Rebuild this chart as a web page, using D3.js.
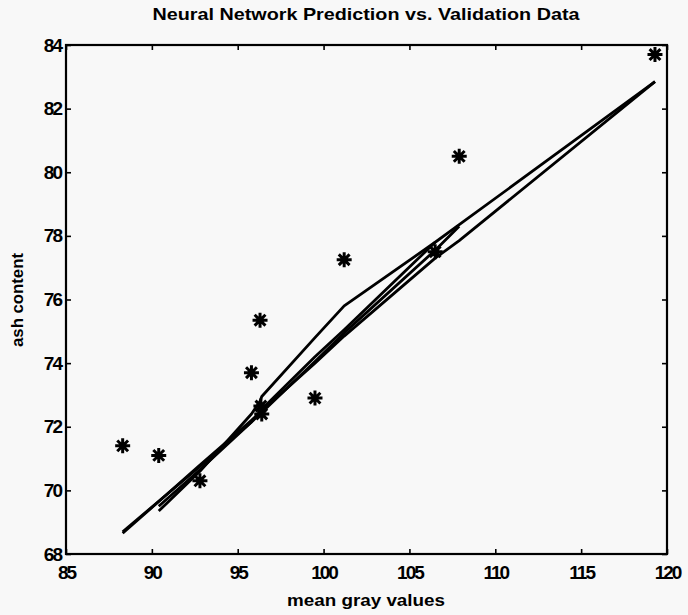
<!DOCTYPE html>
<html>
<head>
<meta charset="utf-8">
<script src="https://cdn.jsdelivr.net/npm/d3@7"></script>
<style>
  body { margin: 0; background: #f8f8f8; }
  svg { display: block; }
  text { font-family: "Liberation Sans", Arial, sans-serif; fill: #000; font-weight: bold; }
</style>
</head>
<body>
<div id="chart"></div>
<script>
// validation data (mean gray value, ash content)
var valX = [88.3, 90.4, 92.8, 95.8, 96.3, 96.35, 96.4, 99.5, 101.2, 106.5, 107.9, 119.3];
var valY = [71.4, 71.1, 70.3, 73.7, 75.35, 72.65, 72.4, 72.9, 77.25, 77.5, 80.5, 83.7];

// network predictions (several trained nets)
var predX1 = [88.3, 90.4, 92.8, 95.8, 96.3, 96.4, 99.5, 101.2, 106.5, 107.9, 119.3];
var predY1 = [68.65, 69.65, 70.8, 72.2, 72.45, 72.5, 74.0, 74.85, 77.3, 77.85, 82.85];
var predX2 = [90.4, 92.8, 95.8, 96.3, 96.4, 99.5, 101.2, 106.5, 107.9, 119.3];
var predY2 = [69.35, 70.6, 72.4, 72.8, 72.95, 74.8, 75.8, 77.8, 78.35, 82.85];
var predX3 = [88.3, 92.8, 95.8, 96.4, 99.5, 101.2, 106.5];
var predY3 = [68.7, 70.75, 72.15, 72.55, 74.2, 75.05, 77.8];
var predX4 = [90.4, 92.8, 96.4, 99.5, 101.2, 106.5, 107.9];
var predY4 = [69.5, 70.65, 72.45, 74.05, 74.95, 77.55, 78.3];

var xTicks = [85, 90, 95, 100, 105, 110, 115, 120];
var yTicks = [68, 70, 72, 74, 76, 78, 80, 82, 84];

var w = 688, h = 615;
var padLeft = 66, padRight = 667, padTop = 45, padBottom = 554;

var svg = d3.select("#chart").append("svg")
    .attr("width", w)
    .attr("height", h);

var xScale = d3.scaleLinear().domain([85, 120]).range([padLeft, padRight]);
var yScale = d3.scaleLinear().domain([68, 84]).range([padBottom, padTop]);

// prediction lines
var line = d3.line()
    .x(function(d) { return xScale(d[0]); })
    .y(function(d) { return yScale(d[1]); });

var preds = [[predX1, predY1], [predX2, predY2], [predX3, predY3], [predX4, predY4]];
preds.forEach(function(p) {
    svg.append("path")
        .datum(d3.zip(p[0], p[1]))
        .attr("d", line)
        .attr("fill", "none")
        .attr("stroke", "#000")
        .attr("stroke-width", 2.8)
        .attr("stroke-linejoin", "round");
});

// asterisk markers
var r = 7.5, rd = r * 0.72;
var star = "M0," + (-r) + "L0," + r +
           "M" + (-r) + ",0L" + r + ",0" +
           "M" + (-rd) + "," + (-rd) + "L" + rd + "," + rd +
           "M" + (-rd) + "," + rd + "L" + rd + "," + (-rd);
svg.selectAll(".pt")
    .data(d3.zip(valX, valY))
    .enter()
    .append("path")
    .attr("class", "pt")
    .attr("transform", function(d) { return "translate(" + xScale(d[0]) + "," + yScale(d[1]) + ")"; })
    .attr("d", star)
    .attr("stroke", "#000")
    .attr("stroke-width", 3)
    .attr("fill", "none");

// axes (matlab style box, ticks inward)
var xAxis = d3.axisBottom(xScale).tickValues(xTicks).tickSize(-5).tickPadding(10);
var yAxis = d3.axisLeft(yScale).tickValues(yTicks).tickSize(-5).tickPadding(5);

var gx = svg.append("g")
    .attr("transform", "translate(0," + padBottom + ")")
    .call(xAxis);
var gy = svg.append("g")
    .attr("transform", "translate(" + padLeft + ",0)")
    .call(yAxis);
svg.append("g")
    .attr("transform", "translate(0," + padTop + ")")
    .call(d3.axisTop(xScale).tickValues(xTicks).tickSize(-5).tickFormat(""));
svg.append("g")
    .attr("transform", "translate(" + padRight + ",0)")
    .call(d3.axisRight(yScale).tickValues(yTicks).tickSize(-5).tickFormat(""));

svg.selectAll(".domain").remove();
svg.selectAll(".tick line").attr("stroke", "#000").attr("stroke-width", 1.6);
svg.append("rect")
    .attr("x", padLeft).attr("y", padTop)
    .attr("width", padRight - padLeft).attr("height", padBottom - padTop)
    .attr("fill", "none")
    .attr("stroke", "#000")
    .attr("stroke-width", 2.2);

svg.selectAll(".tick text")
    .style("font-size", "19px")
    .style("letter-spacing", "-2px")
    .attr("fill", "#000");
gx.selectAll(".tick text").attr("dy", "0.8em");

// titles
svg.append("text")
    .attr("x", 366)
    .attr("y", 20)
    .attr("text-anchor", "middle")
    .attr("textLength", 427)
    .attr("lengthAdjust", "spacingAndGlyphs")
    .style("font-size", "17px")
    .text("Neural Network Prediction  vs. Validation Data");

svg.append("text")
    .attr("x", 366)
    .attr("y", 606)
    .attr("text-anchor", "middle")
    .attr("textLength", 158)
    .attr("lengthAdjust", "spacingAndGlyphs")
    .style("font-size", "17px")
    .text("mean gray values");

svg.append("text")
    .attr("transform", "translate(23,300) rotate(-90)")
    .attr("text-anchor", "middle")
    .attr("textLength", 94)
    .attr("lengthAdjust", "spacingAndGlyphs")
    .style("font-size", "17px")
    .text("ash content");
</script>
</body>
</html>
